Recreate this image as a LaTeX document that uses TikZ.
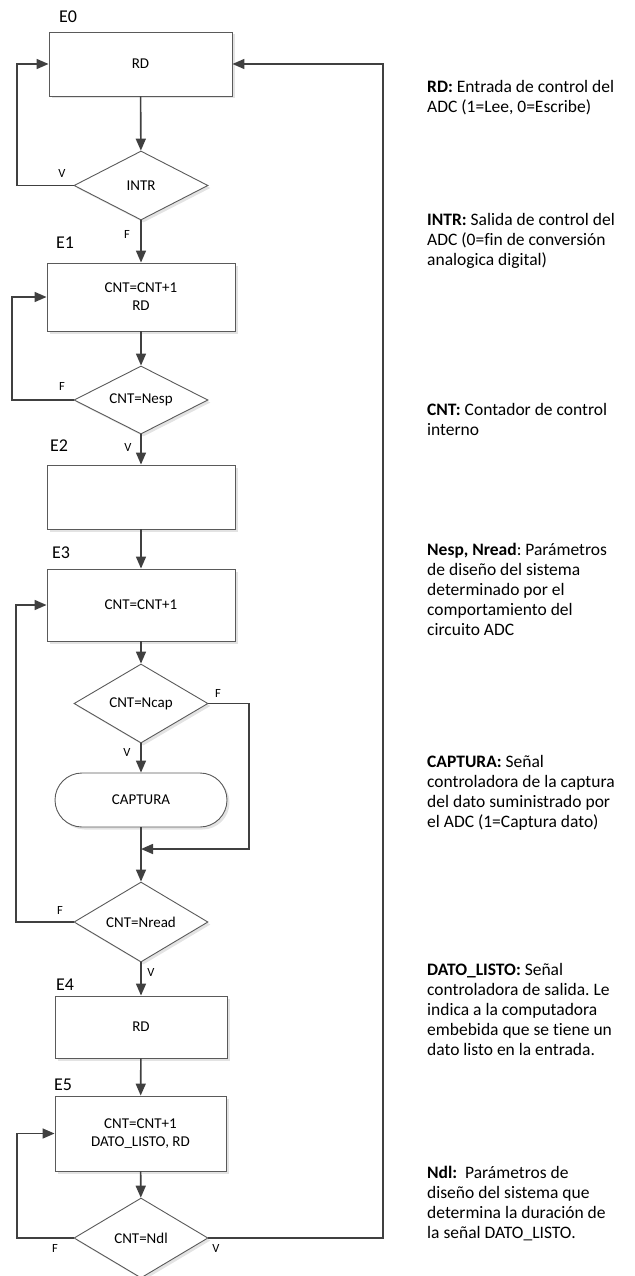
\documentclass[tikz,border=0pt]{standalone}
\usepackage{fontspec}
\setmainfont{Carlito}[Ligatures=NoCommon]
\usetikzlibrary{arrows.meta,shapes.geometric,shadows}
\definecolor{ln}{HTML}{404040}
\definecolor{bd}{HTML}{5A5A5A}
\frenchspacing
\begin{document}
\begin{tikzpicture}[x=1pt,y=-1pt,
  shd/.style={drop shadow={shadow xshift=2.5pt,shadow yshift=-2.5pt,fill=black!18,opacity=0.6}},
  procbox/.style={draw=bd,line width=0.9pt,fill=white,shd,rectangle,inner sep=0pt,align=center,
     font=\fontsize{15}{18}\selectfont},
  decbox/.style={draw=bd,line width=0.9pt,fill=white,shd,diamond,aspect=2.5,inner sep=0pt,
     minimum width=134pt,font=\fontsize{15}{18}\selectfont},
  termbox/.style={draw=bd,line width=0.9pt,fill=white,shd,rectangle,rounded corners=27pt,inner sep=0pt,
     minimum width=172pt,minimum height=54pt,font=\fontsize{15}{18}\selectfont},
  elab/.style={font=\fontsize{18}{20}\selectfont,inner sep=0pt},
  vf/.style={font=\fontsize{12.5}{14}\selectfont,inner sep=0pt},
  leg/.style={font=\fontsize{17.5}{20}\selectfont,inner sep=0pt,align=left,anchor=north west},
  arr/.style={draw=ln,line width=1.6pt,-{Triangle[length=12pt,width=10pt]}},
  ln/.style={draw=ln,line width=1.6pt}
]
\useasboundingbox (0,0) rectangle (634,1276);
% nodes
\node[procbox,minimum width=183pt,minimum height=64pt] (e0) at (140.5,64) {RD};
\node[decbox,minimum height=69pt] (intr) at (141,185.5) {INTR};
\node[procbox,minimum width=188pt,minimum height=68pt] (e1) at (141,297) {CNT=CNT+1\\RD};
\node[decbox,minimum height=68pt] (nesp) at (141,400) {CNT=Nesp};
\node[procbox,minimum width=188pt,minimum height=64pt] (e2) at (141,497) {};
\node[procbox,minimum width=188pt,minimum height=72pt] (e3) at (141,605) {CNT=CNT+1};
\node[decbox,minimum height=79pt] (ncap) at (141,703.5) {CNT=Ncap};
\node[termbox] (cap) at (141,800) {CAPTURA};
\node[decbox,minimum height=80pt] (nread) at (141,922) {CNT=Nread};
\node[procbox,minimum width=172pt,minimum height=62pt] (e4) at (141,1027) {RD};
\node[procbox,minimum width=171pt,minimum height=75pt] (e5) at (140.5,1133.5) {CNT=CNT+1\\DATO\_LISTO, RD};
\node[decbox,minimum height=80pt] (ndl) at (141,1238) {CNT=Ndl};
% state labels
\node[elab] (l0) at (68,17) {E0};
\node[elab] (l1) at (65,243) {E1};
\node[elab] (l2) at (59,446) {E2};
\node[elab] (l3) at (61,553) {E3};
\node[elab] (l4) at (65,985) {E4};
\node[elab] (l5) at (63,1085) {E5};
% coordinates
\coordinate (c0a) at (17,185.5);
\coordinate (c0b) at (17,64);
\coordinate (c1a) at (12,400);
\coordinate (c1b) at (12,297);
\coordinate (c2a) at (249,703.5);
\coordinate (c2b) at (249,849);
\coordinate (c2c) at (141,849);
\coordinate (c3a) at (16,922);
\coordinate (c3b) at (16,605);
\coordinate (c4a) at (17,1238);
\coordinate (c4b) at (17,1133.5);
\coordinate (c5a) at (383,1238);
\coordinate (c5b) at (383,64);
% connectors
\draw[arr] (e0) -- (intr);
\draw[arr] (intr.west) -- (c0a) -- (c0b) -- (e0.west);
\draw[arr] (intr) -- (e1);
\draw[arr] (e1) -- (nesp);
\draw[arr] (nesp.west) -- (c1a) -- (c1b) -- (e1.west);
\draw[arr] (nesp) -- (e2);
\draw[arr] (e2) -- (e3);
\draw[arr] (e3) -- (ncap);
\draw[arr] (ncap) -- (cap);
\draw[arr] (ncap.east) -- (c2a) -- (c2b) -- (c2c);
\draw[arr] (cap) -- (nread);
\draw[arr] (nread.west) -- (c3a) -- (c3b) -- (e3.west);
\draw[arr] (nread) -- (e4);
\draw[arr] (e4) -- (e5);
\draw[arr] (e5) -- (ndl);
\draw[arr] (ndl.west) -- (c4a) -- (c4b) -- (e5.west);
\draw[arr] (ndl.east) -- (c5a) -- (c5b) -- (e0.east);
% V/F labels
\node[vf] (v0) at (62,173) {V};
\node[vf] (f0) at (127,234) {F};
\node[vf] (f1) at (62,386) {F};
\node[vf] (v1) at (128,447) {V};
\node[vf] (f2) at (218,693) {F};
\node[vf] (v2) at (127,752) {V};
\node[vf] (f3) at (60,910) {F};
\node[vf] (v3) at (151,972) {V};
\node[vf] (f4) at (55,1248) {F};
\node[vf] (v4) at (216,1248) {V};
% legend
\node[leg] (g1) at (427,80) {\textbf{RD:} Entrada de control del\\ADC (1=Lee, 0=Escribe)};
\node[leg] (g2) at (427,213) {\textbf{INTR:} Salida de control del\\ADC (0=fin de conversión\\analogica digital)};
\node[leg] (g3) at (427,403) {\textbf{CNT:} Contador de control\\interno};
\node[leg] (g4) at (427,543) {\textbf{Nesp, Nread}: Parámetros\\de diseño del sistema\\determinado por el\\comportamiento del\\circuito ADC};
\node[leg] (g5) at (427,755) {\textbf{CAPTURA:} Señal\\controladora de la captura\\del dato suministrado por\\el ADC (1=Captura dato)};
\node[leg] (g6) at (427,963) {\textbf{DATO\_LISTO:} Señal\\controladora de salida. Le\\indica a la computadora\\embebida que se tiene un\\dato listo en la entrada.};
\node[leg] (g7) at (427,1166) {\textbf{Ndl:}~ Parámetros de\\diseño del sistema que\\determina la duración de\\la señal DATO\_LISTO.};
\end{tikzpicture}
\end{document}
